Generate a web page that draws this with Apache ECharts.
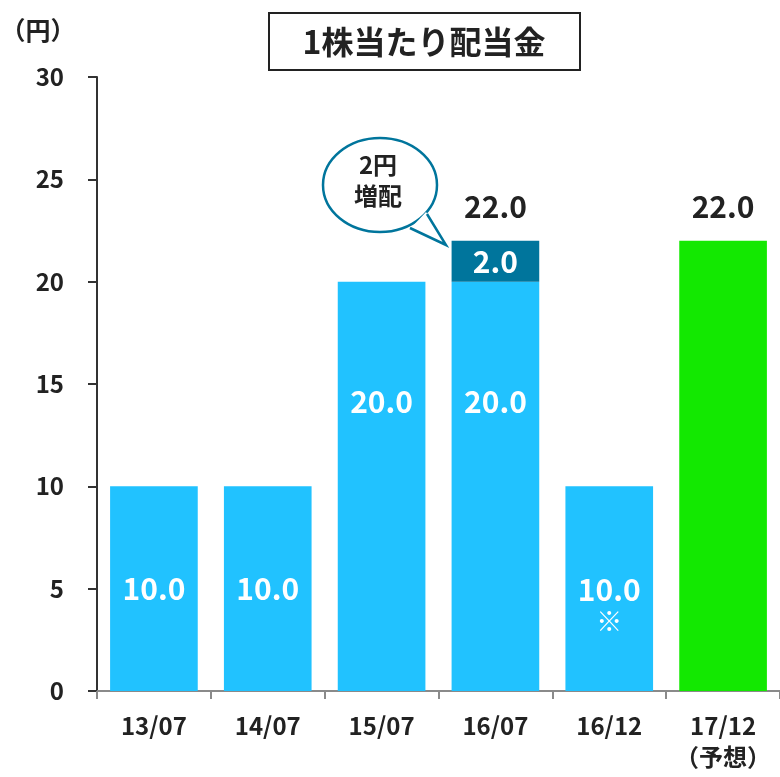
<!DOCTYPE html>
<html><head><meta charset="utf-8">
<script src="https://cdn.jsdelivr.net/npm/echarts@6/dist/echarts.min.js"></script>
<style>html,body{margin:0;padding:0;background:#fff}#c{width:780px;height:777px}</style>
</head><body><div id="c"></div>
<script>
const categories = ['13/07','14/07','15/07','16/07','16/12','17/12\n（予想）'];
const baseValues = [10, 10, 20, 20, 10, 22];
const increaseValues = [null, null, null, 2, null, null];
const totalValues = [null, null, null, 22, null, 22];
const notes = ['', '', '', '', '※', ''];
const yMin = 0, yMax = 30, yStep = 5;

const FONT = '"Noto Sans CJK JP", "Noto Sans", sans-serif';
const LIGHT = '#21C2FF', DARK = '#00759C', GREEN = '#13E801', INK = '#222222';

const chart = echarts.init(document.getElementById('c'));
const baseData = baseValues.map((v, i) => {
  const item = { value: v };
  if (i === 5) {
    item.itemStyle = { color: GREEN };
    item.label = { show: false };
  } else if (v >= 20) {
    item.label = { offset: [0, -85] };
  } else if (notes[i]) {
    item.label = { formatter: p => p.value.toFixed(1) + '\n{s|' + notes[i] + '}', offset: [0, 16] };
  }
  return item;
});

chart.setOption({
  animation: false,
  grid: { left: 97, right: 0, top: 77, bottom: 86, containLabel: false },
  xAxis: {
    type: 'category', data: categories, boundaryGap: true,
    axisLine: { show: true, lineStyle: { color: '#8a8a8a', width: 2 } },
    axisTick: { show: true, length: 8, lineStyle: { color: '#8a8a8a', width: 2 } },
    axisLabel: { margin: 19, fontFamily: FONT, fontWeight: 'bold', fontSize: 24, color: INK, lineHeight: 31, interval: 0 }
  },
  yAxis: {
    type: 'value', min: yMin, max: yMax, interval: yStep,
    splitLine: { show: false },
    axisLine: { show: true, lineStyle: { color: '#333', width: 2 } },
    axisTick: { show: true, length: 9, lineStyle: { color: '#333', width: 2 } },
    axisLabel: { margin: 33, fontFamily: FONT, fontWeight: 'bold', fontSize: 24, color: INK }
  },
  series: [
    {
      type: 'bar', stack: 't', data: baseData, barWidth: '77%',
      itemStyle: { color: LIGHT },
      label: {
        show: true, position: 'inside', formatter: p => p.value.toFixed(1),
        color: '#fff', fontFamily: FONT, fontWeight: 'bold', fontSize: 30, lineHeight: 32,
        rich: { s: { color: '#fff', fontSize: 26, fontWeight: 'bold', fontFamily: FONT, lineHeight: 30 } }
      }
    },
    {
      type: 'bar', stack: 't', data: increaseValues, barWidth: '77%',
      itemStyle: { color: DARK },
      label: {
        show: true, position: 'inside', formatter: p => p.value.toFixed(1),
        color: '#fff', fontFamily: FONT, fontWeight: 'bold', fontSize: 30
      }
    },
    {
      type: 'scatter', data: totalValues, symbolSize: 0, silent: true,
      itemStyle: { opacity: 1 },
      label: {
        show: true, position: 'inside', offset: [0, -34], formatter: p => p.value.toFixed(1),
        color: INK, opacity: 1, fontFamily: FONT, fontWeight: 'bold', fontSize: 30
      }
    }
  ],
  graphic: [
    { type: 'rect', shape: { x: 269, y: 13, width: 311, height: 57 }, style: { fill: '#fff', stroke: '#222', lineWidth: 2 } },
    { type: 'text', x: 424, y: 42, style: { text: '1株当たり配当金', font: 'bold 32px ' + FONT, fill: INK, align: 'center', verticalAlign: 'middle' } },
    { type: 'text', x: 38, y: 30, style: { text: '（円）', font: 'bold 25px ' + FONT, fill: INK, align: 'center', verticalAlign: 'middle' } },
    { type: 'ellipse', shape: { cx: 380, cy: 185, rx: 57, ry: 47 }, style: { fill: '#fff', stroke: DARK, lineWidth: 2.5 } },
    { type: 'polygon', shape: { points: [[426, 212], [446, 245], [410, 229]] }, style: { fill: '#fff' } },
    { type: 'polyline', shape: { points: [[427, 214], [446, 245], [410, 228]] }, style: { stroke: DARK, lineWidth: 2.5, fill: null } },
    { type: 'text', x: 378, y: 180, style: { text: '2円\n増配', font: 'bold 24px ' + FONT, fill: INK, align: 'center', verticalAlign: 'middle', lineHeight: 31 } }
  ]
});
</script></body></html>
